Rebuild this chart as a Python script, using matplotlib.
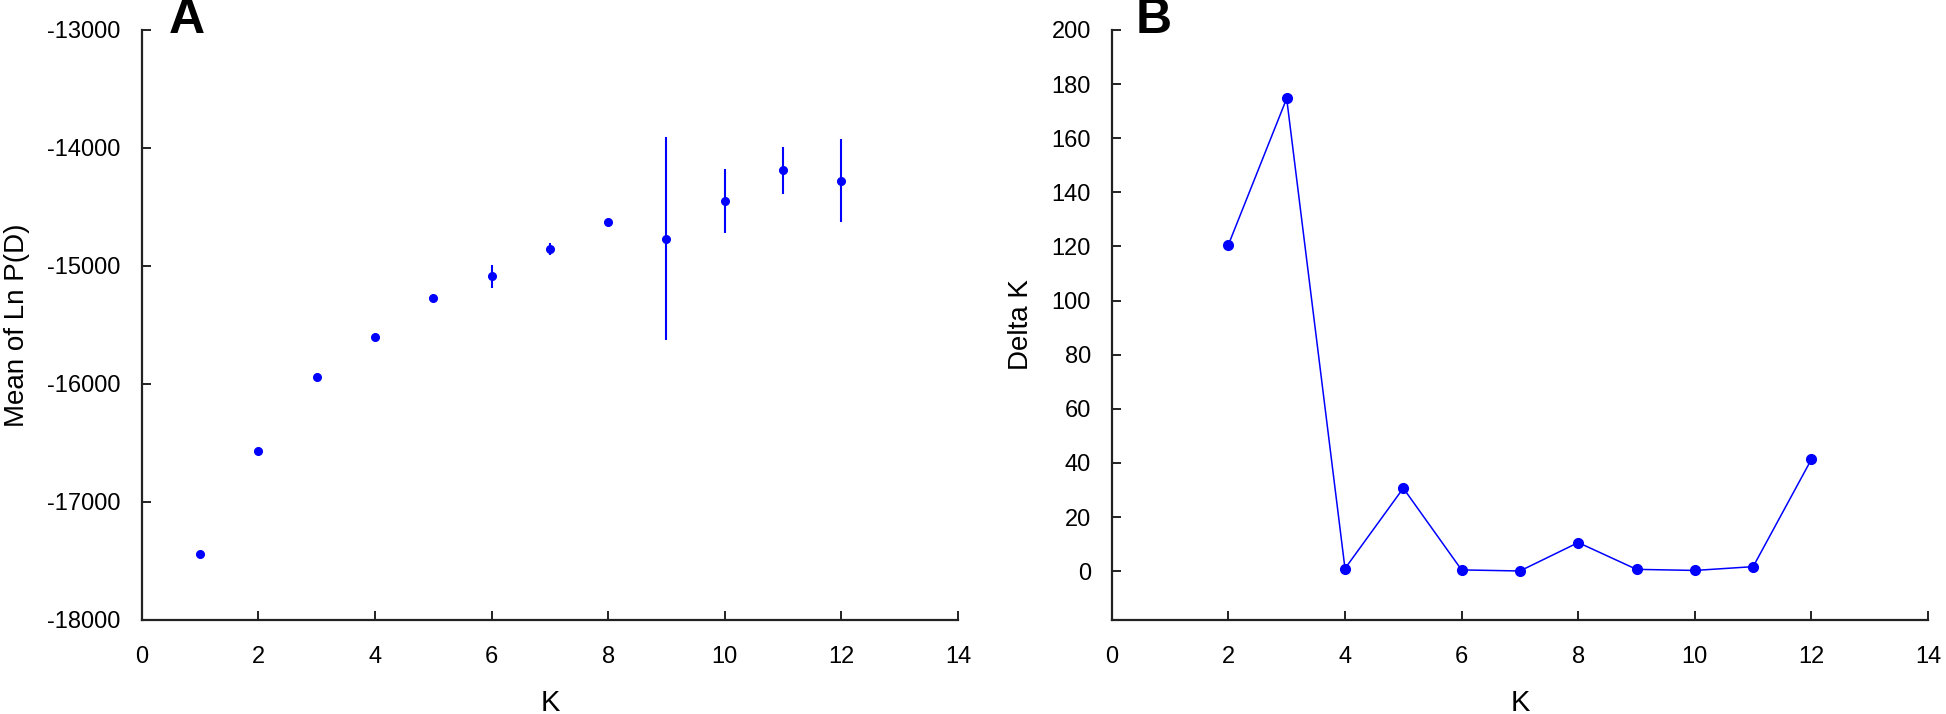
import matplotlib
matplotlib.use('Agg')
import matplotlib.pyplot as plt

# STRUCTURE-style summary: mean LnP(D) per K and Evanno's Delta K
k_all = [1, 2, 3, 4, 5, 6, 7, 8, 9, 10, 11, 12]
mean_lnp = [-17444, -16571, -15938, -15598, -15274, -15089, -14857, -14629,
            -14768, -14448, -14189, -14278]
sd_lnp = [10, 10, 15, 15, 20, 100, 50, 25, 860, 272, 200, 353]

k_delta = [2, 3, 4, 5, 6, 7, 8, 9, 10, 11, 12]
delta_k = [120.6, 174.7, 1.0, 30.7, 0.5, 0.1, 10.6, 0.7, 0.3, 1.7, 41.4]

plt.rcParams['font.family'] = ['Liberation Sans', 'DejaVu Sans']
plt.rcParams['axes.unicode_minus'] = False

blue = '#0000ff'
axcol = '#222222'

fig = plt.figure(figsize=(19.46, 7.14), dpi=100)
axA = fig.add_axes([0.0728, 0.1317, 0.4195, 0.8263])
axB = fig.add_axes([0.5713, 0.1317, 0.4195, 0.8263])

# panel A
axA.errorbar(k_all, mean_lnp, yerr=sd_lnp, fmt='o', color=blue, ms=5.5,
             elinewidth=1.5, capsize=0)
axA.set_xlim(0, 14)
axA.set_ylim(-18000, -13000)
axA.set_xticks(range(0, 15, 2))
axA.set_yticks(range(-18000, -12999, 1000))
axA.set_ylabel('Mean of Ln P(D)', fontsize=20)
axA.yaxis.set_label_coords(-0.137, 0.5)

# panel B
axB.plot(k_delta, delta_k, '-o', color=blue, ms=7, lw=1.1)
axB.set_xlim(0, 14)
axB.set_ylim(-18, 200)
axB.set_xticks(range(0, 15, 2))
axB.set_yticks(range(0, 201, 20))
axB.set_ylabel('Delta K', fontsize=20)
axB.yaxis.set_label_coords(-0.095, 0.5)

for ax in (axA, axB):
    ax.set_xlabel('K', fontsize=21, labelpad=15)
    ax.tick_params(axis='x', direction='in', length=6.5, width=1.4, pad=19,
                   labelsize=17, color=axcol)
    ax.tick_params(axis='y', direction='in', length=6.5, width=1.4, pad=15,
                   labelsize=17, color=axcol)
    ax.spines['top'].set_visible(False)
    ax.spines['right'].set_visible(False)
    for s in ('left', 'bottom'):
        ax.spines[s].set_linewidth(1.6)
        ax.spines[s].set_color(axcol)

fig.text(0.0961, 0.972, 'A', fontsize=36, fontweight='bold', ha='center', va='center')
fig.text(0.593, 0.972, 'B', fontsize=36, fontweight='bold', ha='center', va='center')

fig.savefig('out.png', dpi=100)
